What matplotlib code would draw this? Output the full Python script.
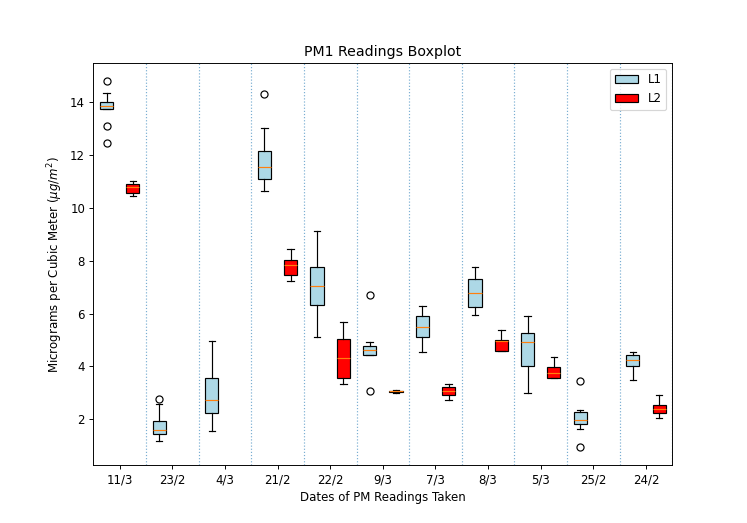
import numpy as np
import matplotlib
matplotlib.use("Agg")
import matplotlib.pyplot as plt
from matplotlib.patches import Patch

# Dates on the x axis
dates = ['11/3', '23/2', '4/3', '21/2', '22/2', '9/3', '7/3', '8/3', '5/3', '25/2', '24/2']

# L1 box statistics
l1_whislo = [13.73, 1.18, 1.57, 10.63, 5.13, 4.44, 4.53, 5.96, 2.98, 1.62, 3.48]
l1_q1     = [13.73, 1.45, 2.25, 11.09, 6.33, 4.44, 5.11, 6.23, 4.03, 1.84, 4.00]
l1_med    = [13.83, 1.60, 2.74, 11.53, 7.05, 4.62, 5.50, 6.78, 4.91, 1.96, 4.25]
l1_q3     = [13.99, 1.94, 3.57, 12.15, 7.75, 4.79, 5.91, 7.32, 5.27, 2.28, 4.44]
l1_whishi = [14.33, 2.57, 4.98, 13.03, 9.11, 4.93, 6.29, 7.76, 5.89, 2.37, 4.54]
l1_fliers = [[14.79, 13.11, 12.45], [2.77], [], [14.29], [], [6.70, 3.07], [], [], [], [3.46, 0.95], []]

# L2 box statistics (None = no L2 readings for that date)
l2_whislo = [10.43, None, None, 7.25, 3.32, 3.00, 2.75, 4.58, 3.55, None, 2.05]
l2_q1     = [10.55, None, None, 7.46, 3.57, 3.02, 2.91, 4.58, 3.57, None, 2.24]
l2_med    = [10.77, None, None, 7.84, 4.31, 3.06, 3.07, 4.96, 3.74, None, 2.39]
l2_q3     = [10.89, None, None, 8.04, 5.05, 3.09, 3.23, 5.01, 3.97, None, 2.55]
l2_whishi = [11.02, None, None, 8.44, 5.69, 3.10, 3.34, 5.39, 4.34, None, 2.93]


def make_stats(lo, q1, med, q3, hi, fliers=None):
    stats, pos = [], []
    for i in range(len(lo)):
        if lo[i] is None:
            continue
        stats.append(dict(whislo=lo[i], q1=q1[i], med=med[i], q3=q3[i], whishi=hi[i],
                          fliers=fliers[i] if fliers else []))
        pos.append(i)
    return stats, np.array(pos)


# drawn at 85 dpi so text and lines come out a bit smaller, like the original
fig, ax = plt.subplots(figsize=(747 / 85, 523 / 85), dpi=85)

s1, p1 = make_stats(l1_whislo, l1_q1, l1_med, l1_q3, l1_whishi, l1_fliers)
s2, p2 = make_stats(l2_whislo, l2_q1, l2_med, l2_q3, l2_whishi)

ax.bxp(s1, positions=p1 - 0.25, widths=0.25, patch_artist=True,
       boxprops=dict(facecolor='lightblue'), manage_ticks=False)
ax.bxp(s2, positions=p2 + 0.25, widths=0.25, patch_artist=True,
       boxprops=dict(facecolor='red'), manage_ticks=False)

# Dotted separators between dates
for i in range(len(dates)):
    ax.axvline(i + 0.5, color='tab:blue', linestyle=':', alpha=0.6, linewidth=1)

ax.set_xticks(range(len(dates)))
ax.set_xticklabels(dates)
ax.set_xlim(-0.5, len(dates) - 0.5)

ax.set_title('PM1 Readings Boxplot')
ax.set_xlabel('Dates of PM Readings Taken')
ax.set_ylabel(r'Micrograms per Cubic Meter ($\mu g/m^2$)')

ax.legend(handles=[Patch(facecolor='lightblue', edgecolor='black', label='L1'),
                   Patch(facecolor='red', edgecolor='black', label='L2')],
          loc='upper right')

fig.savefig('out.png', dpi=85)
